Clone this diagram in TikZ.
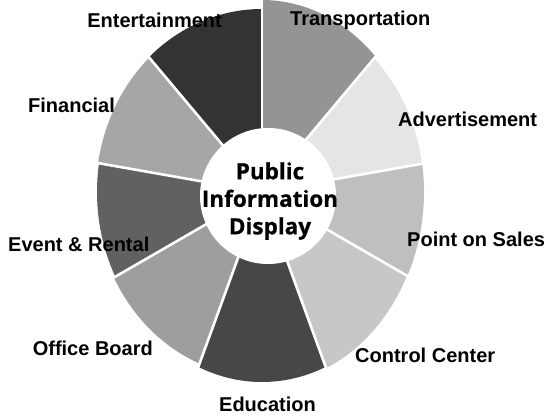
\documentclass[tikz,border=0pt]{standalone}
\usepackage{fontspec}
\setmainfont{Liberation Sans}
\newfontfamily\hubfont[FakeBold=0.6]{Open Sans}

% elliptical pie sector: fill, start angle, end angle, x radius, y radius (in units of 100)
\newcommand\piesector[5]{%
  \fill[#1] (0,0) -- plot[domain=#2:#3, samples=40, variable=\t]
    (\t:{100*#4*#5/sqrt((#5*cos(\t))^2+(#4*sin(\t))^2)}) -- cycle;}

\begin{document}
\begin{tikzpicture}[x=1pt,y=1pt,
  lbl/.style={font=\bfseries\fontsize{20}{24}\selectfont, inner sep=0pt},
  hub/.style={font=\hubfont\bfseries\fontsize{22.5}{27.5}\selectfont, align=center, inner sep=0pt},
  gap/.style={draw=white, line width=2.6pt}]
\useasboundingbox (0,0) rectangle (548,415);
\fill[white] (0,0) rectangle (548,415);

% the nine sectors around the hub
\begin{scope}[shift={(262,223)}]
  \piesector{black!42}{50}{90}{1.60}{1.92}     % Transportation
  \piesector{black!10}{10}{50}{1.62}{1.85}     % Advertisement
  \piesector{black!25}{-30}{10}{1.62}{1.90}    % Point on Sales
  \piesector{black!22}{-70}{-30}{1.61}{1.92}   % Control Center
  \piesector{black!72}{-110}{-70}{1.63}{1.90}  % Education
  \piesector{black!38}{-150}{-110}{1.67}{1.85} % Office Board
  \piesector{black!62}{170}{210}{1.65}{1.85}   % Event & Rental
  \piesector{black!35}{130}{170}{1.66}{1.83}   % Financial
  \piesector{black!80}{90}{130}{1.67}{1.83}    % Entertainment
  % white gaps between the sectors
  \foreach \a in {90,50,10,-30,-70,-110,-150,170,130}
    \draw[gap] (0,0) -- (\a:215);
\end{scope}

% hub
\fill[white] (268,219) circle[radius=68];
\node[hub] (hubtext) at (270,214) {Public\\Information\\Display};

% sector labels
\node[lbl, anchor=base east] (ent) at (222,387) {Entertainment};
\node[lbl, anchor=base west] (tra) at (290,389) {Transportation};
\node[lbl, anchor=base west] (adv) at (398,288) {Advertisement};
\node[lbl, anchor=base west] (pos) at (407,168) {Point on Sales};
\node[lbl, anchor=base west] (ctl) at (355,53) {Control Center};
\node[lbl, anchor=base] (edu) at (267.5,3.5) {Education};
\node[lbl, anchor=base east] (off) at (153,60) {Office Board};
\node[lbl, anchor=base west] (evt) at (8,163) {Event \& Rental};
\node[lbl, anchor=base west] (fin) at (28,302) {Financial};
\end{tikzpicture}
\end{document}
